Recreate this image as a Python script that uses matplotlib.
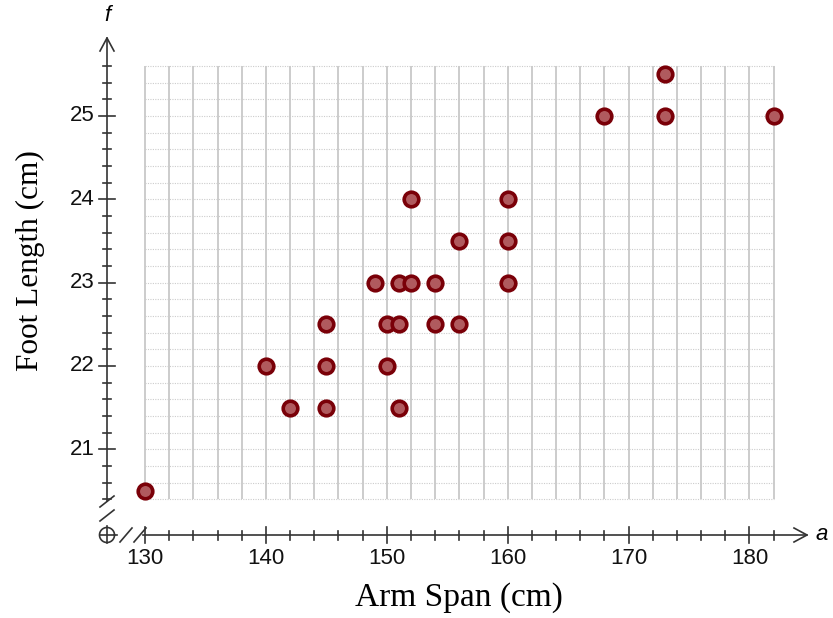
import numpy as np
import matplotlib.pyplot as plt

# data
arm_span = [130, 140, 142, 145, 145, 145, 149, 150, 150, 151, 151, 151,
            152, 152, 154, 154, 156, 156, 160, 160, 160, 168, 173, 173, 182]
foot_length = [20.5, 22.0, 21.5, 21.5, 22.0, 22.5, 23.0, 22.5, 22.0, 23.0, 22.5, 21.5,
               24.0, 23.0, 23.0, 22.5, 23.5, 22.5, 24.0, 23.5, 23.0, 25.0, 25.5, 25.0, 25.0]

x_major = [130, 140, 150, 160, 170, 180]
y_major = [21, 22, 23, 24, 25]

# pixel scale of the original picture (px per unit)
sx, sy = 12.09, 83.3
W, H = 833, 618

fig = plt.figure(figsize=(W / 100, H / 100), dpi=100)
ax = fig.add_axes([0, 0, 1, 1])
ax.set_xlim(130 - 145 / sx, 130 + (W - 145) / sx)
ax.set_ylim(25 - (H - 116) / sy, 25 + 116 / sy)
ax.axis('off')

dx, dy = 1 / sx, 1 / sy   # one pixel in data units
x0, y0 = 130 - 38 * dx, 25 - 419 * dy   # origin of the drawn axes
xg = np.arange(130, 182.1, 2)
yg = np.arange(20.4, 25.61, 0.2)

# grid
ax.vlines(xg, yg[0], yg[-1], color='#c8c8c8', lw=1.3, zorder=1)
ax.hlines(yg, xg[0], xg[-1], color='#cccccc', lw=0.8, linestyles=(0, (1, 1.2)), zorder=1)

axc = '#333333'
lw = 1.2
# y axis
ytop = 25 + 78 * dy
ax.plot([x0, x0], [20.4 - 2 * dy, ytop], color=axc, lw=lw)
ax.plot([x0 - 7 * dx, x0, x0 + 7 * dx], [ytop - 13 * dy, ytop, ytop - 13 * dy], color=axc, lw=lw)
for v in yg:
    h = 8 if abs(v - round(v)) < 1e-6 else 4.5
    ax.plot([x0 - h * dx, x0 + h * dx], [v, v], color=axc, lw=lw)
# x axis
xtip = 130 + 662 * dx
ax.plot([130 - 2 * dx, xtip], [y0, y0], color=axc, lw=lw)
ax.plot([xtip - 13 * dx, xtip, xtip - 13 * dx], [y0 + 7 * dy, y0, y0 - 7 * dy], color=axc, lw=lw)
for v in xg:
    h = 8 if v % 10 == 0 else 4.5
    ax.plot([v, v], [y0 - h * dy, y0 + h * dy], color=axc, lw=lw)

# origin symbol and axis breaks
t = np.linspace(0, 2 * np.pi, 60)
ax.plot(x0 + 7.5 * dx * np.cos(t), y0 + 7.5 * dy * np.sin(t), color=axc, lw=lw)
ax.plot([x0 - 7.5 * dx, x0 + 10 * dx], [y0, y0], color=axc, lw=lw)
ax.plot([x0, x0], [y0 - 7.5 * dy, y0 + 9 * dy], color=axc, lw=lw)
for off in (13, 27):
    ax.plot([x0 + off * dx, x0 + (off + 12) * dx], [y0 - 7 * dy, y0 + 7 * dy], color=axc, lw=lw)
for off in (14, 28):
    ax.plot([x0 - 7 * dx, x0 + 7 * dx], [y0 + off * dy, y0 + (off + 11) * dy], color=axc, lw=lw)

# tick labels
for v in x_major:
    ax.text(v, y0 - 13 * dy, str(v), ha='center', va='top', fontsize=16,
            family='Liberation Sans', color='#111111')
for v in y_major:
    ax.text(x0 - 12 * dx, v, str(v), ha='right', va='center', fontsize=16,
            family='Liberation Sans', color='#111111')

ax.text(x0, ytop + 12 * dy, 'f', ha='center', va='bottom', fontsize=16,
        style='italic', family='Liberation Sans')
ax.text(xtip + 9 * dx, y0, 'a', ha='left', va='center', fontsize=16,
        style='italic', family='Liberation Sans')

# axis titles
fig.text(459 / W, 1 - 598 / H, 'Arm Span (cm)', ha='center', va='center',
         fontsize=24, family='Liberation Serif')
fig.text(30 / W, 1 - 261 / H, 'Foot Length (cm)', ha='center', va='center',
         rotation=90, fontsize=22.5, family='Liberation Serif')

# points
ax.plot(arm_span, foot_length, 'o', ms=10.5, mfc='#b05a5e', mec='#7a0008', mew=2.6,
        zorder=5)

fig.savefig('out.png', dpi=100)
